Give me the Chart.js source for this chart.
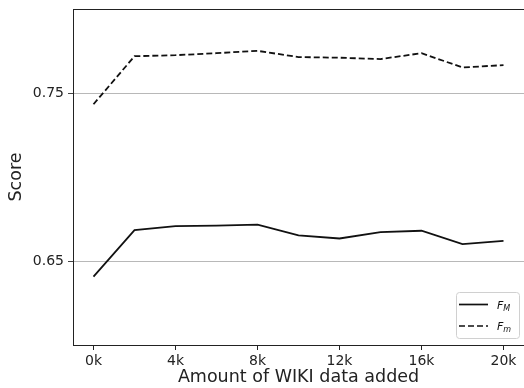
<!DOCTYPE html>
<html>
<head>
<meta charset="utf-8">
<script src="https://cdn.jsdelivr.net/npm/chart.js@4.4.1/dist/chart.umd.min.js"></script>
<style>
  html, body { margin: 0; padding: 0; background: #fff; }
  #wrap { width: 524px; height: 388px; }
</style>
</head>
<body>
<div id="wrap"><canvas id="myChart"></canvas></div>
<script>
// data
const amounts = [0, 2, 4, 6, 8, 10, 12, 14, 16, 18, 20];   // k WIKI sentences
const fMacro = [0.6407, 0.6684, 0.6708, 0.6711, 0.6717, 0.6652, 0.6634, 0.6672, 0.6680, 0.6601, 0.6620];
const fMicro = [0.7433, 0.7719, 0.7725, 0.7737, 0.7751, 0.7714, 0.7710, 0.7702, 0.7737, 0.7652, 0.7666];
const xTicks = [0, 4, 8, 12, 16, 20];
const yTicks = [0.65, 0.75];
const seriesNames = [['F', 'M'], ['F', 'm']];

const ctx = document.getElementById('myChart').getContext('2d');
const font = 'DejaVu Sans';

// matplotlib-like closed frame
const frame = {
    id: 'frame',
    afterDraw(chart) {
        const a = chart.chartArea, c = chart.ctx;
        c.save();
        c.strokeStyle = '#222';
        c.lineWidth = 1;
        c.strokeRect(Math.round(a.left) + 0.5, Math.round(a.top) + 0.5,
                     Math.round(a.right - a.left), Math.round(a.bottom - a.top));
        c.restore();
    }
};

// legend with subscripts
const legendBox = {
    id: 'legendBox',
    afterDraw(chart) {
        const c = chart.ctx, a = chart.chartArea;
        const w = 63, h = 46;
        const x = a.right - w - 5, y = a.bottom - h - 7;
        c.save();
        c.fillStyle = 'rgba(255,255,255,0.85)';
        c.strokeStyle = '#d0d0d0';
        c.lineWidth = 1;
        c.beginPath();
        c.roundRect(x + 0.5, y + 0.5, w, h, 3);
        c.fill();
        c.stroke();
        chart.data.datasets.forEach((ds, i) => {
            const ly = y + 12.5 + i * 21.5;
            c.strokeStyle = '#111';
            c.lineWidth = 1.7;
            c.setLineDash(ds.borderDash || []);
            c.beginPath();
            c.moveTo(x + 3, ly);
            c.lineTo(x + 32, ly);
            c.stroke();
            c.setLineDash([]);
            c.fillStyle = '#111';
            c.textBaseline = 'alphabetic';
            c.font = 'italic 11px ' + font;
            const name = seriesNames[i];
            c.fillText(name[0], x + 41, ly + 4);
            const fw = c.measureText(name[0]).width;
            c.font = 'italic 8px ' + font;
            c.fillText(name[1], x + 41 + fw, ly + 6);
        });
        c.restore();
    }
};

const myChart = new Chart(ctx, {
    type: 'line',
    data: {
        datasets: [{
            label: 'F_M',
            data: amounts.map((x, i) => ({x: x, y: fMacro[i]})),
            borderColor: '#111',
            borderWidth: 1.8,
            pointRadius: 0,
            tension: 0,
            fill: false
        }, {
            label: 'F_m',
            data: amounts.map((x, i) => ({x: x, y: fMicro[i]})),
            borderColor: '#111',
            borderWidth: 1.8,
            borderDash: [6, 3],
            pointRadius: 0,
            tension: 0,
            fill: false
        }]
    },
    options: {
        responsive: true,
        maintainAspectRatio: false,
        animation: false,
        layout: { padding: { top: 9, right: 0, left: 0, bottom: 0 } },
        plugins: {
            legend: { display: false },
            tooltip: { enabled: false }
        },
        scales: {
            x: {
                type: 'linear',
                min: -1,
                max: 21,
                afterBuildTicks: s => { s.ticks = xTicks.map(v => ({value: v})); },
                afterFit: s => { s.height = 43; s.paddingLeft = 0; s.paddingRight = 0; },
                ticks: {
                    color: '#222',
                    padding: 3,
                    font: { family: font, size: 14 },
                    callback: v => v + 'k'
                },
                grid: {
                    drawOnChartArea: false,
                    tickLength: 5,
                    tickColor: '#222'
                },
                border: { display: false },
                title: {
                    display: true,
                    text: 'Amount of WIKI data added',
                    color: '#222',
                    padding: { top: 0, bottom: 0 },
                    font: { family: font, size: 17.5 }
                }
            },
            y: {
                min: 0.60,
                max: 0.80,
                afterBuildTicks: s => { s.ticks = yTicks.map(v => ({value: v})); },
                afterFit: s => { s.width = 73; s.paddingTop = 0; s.paddingBottom = 0; },
                ticks: {
                    color: '#222',
                    padding: 4,
                    font: { family: font, size: 14 },
                    callback: v => v.toFixed(2)
                },
                grid: {
                    color: '#b8b8b8',
                    lineWidth: 1,
                    tickLength: 5,
                    tickColor: '#444'
                },
                border: { display: false },
                title: {
                    display: true,
                    text: 'Score',
                    color: '#222',
                    padding: { top: 6, bottom: 6 },
                    font: { family: font, size: 17.5 }
                }
            }
        }
    },
    plugins: [frame, legendBox]
});
</script>
</body>
</html>
